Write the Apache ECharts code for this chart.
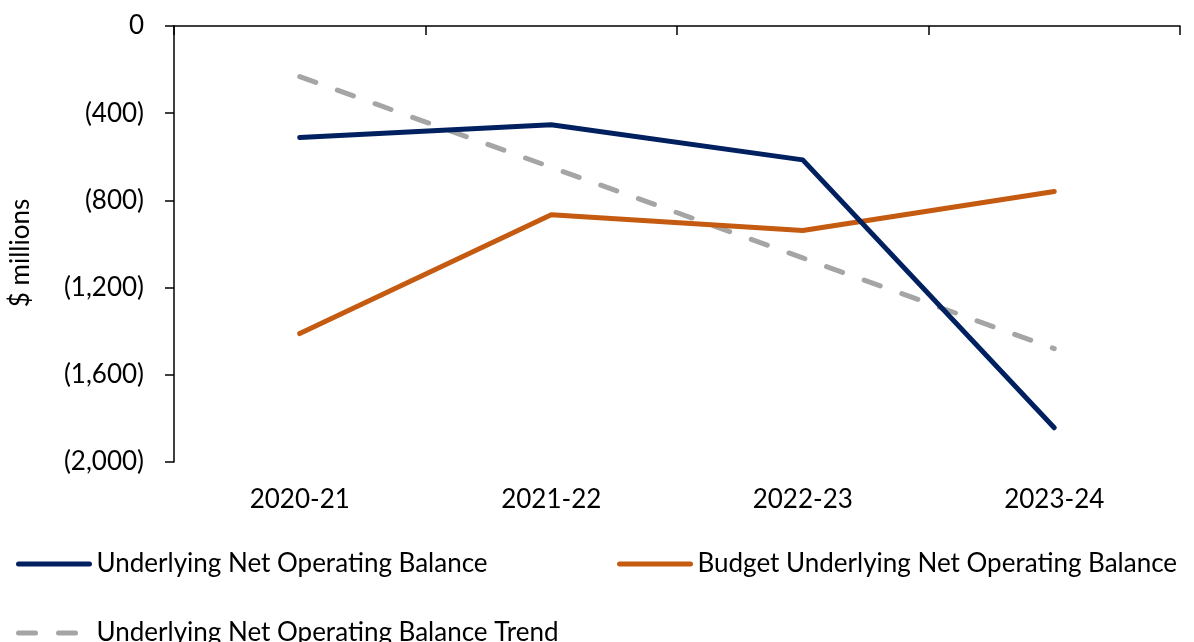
<!DOCTYPE html>
<html>
<head>
<meta charset="utf-8">
<script src="https://cdn.jsdelivr.net/npm/echarts@6/dist/echarts.min.js"></script>
<style>
  html, body { margin: 0; padding: 0; background: #ffffff; }
  #chart { width: 1194px; height: 642px; }
</style>
</head>
<body>
<div id="chart"></div>
<script>
// Financial years on the category axis
const years = ['2020-21', '2021-22', '2022-23', '2023-24'];

// $ millions
const underlyingBalance = [-512, -453, -614, -1843];
const budgetBalance = [-1411, -866, -938, -759];
const underlyingTrend = [-232, -648, -1064, -1480];

const seriesNames = [
  'Underlying Net Operating Balance',
  'Budget Underlying Net Operating Balance',
  'Underlying Net Operating Balance Trend'
];

const FONT = 'Lato';
const FS = 26;

function fmtMillions(v) {
  if (v === 0) return '0';
  const s = Math.abs(v).toLocaleString('en-US');
  return v < 0 ? '(' + s + ')' : s;
}

const chart = echarts.init(document.getElementById('chart'), null, { renderer: 'canvas' });

const legendBase = {
  orient: 'horizontal',
  padding: 0,
  itemWidth: 71,
  itemHeight: 14,
  itemGap: 0,
  itemStyle: { opacity: 0 },
  lineStyle: { width: 5, cap: 'round' },
  textStyle: { fontFamily: FONT, fontSize: FS, color: '#000000', padding: [0, 0, 0, 2] },
  selectedMode: false
};

chart.setOption({
  animation: false,
  backgroundColor: '#ffffff',
  grid: { left: 174, right: 14, top: 26, bottom: 180, containLabel: false, outerBoundsMode: 'none' },
  legend: [
    Object.assign({}, legendBase, { data: [seriesNames[0]], left: 16, top: 551 }),
    Object.assign({}, legendBase, { data: [seriesNames[1]], left: 617, top: 551 }),
    Object.assign({}, legendBase, { data: [seriesNames[2]], left: 16, top: 620 })
  ],
  xAxis: [
    {
      // zero line across the top with tick marks between years
      type: 'category',
      data: years,
      position: 'top',
      boundaryGap: true,
      axisLine: { show: true, onZero: false, lineStyle: { color: '#000000', width: 1.5 } },
      axisTick: { show: true, inside: true, length: 9, alignWithLabel: false, lineStyle: { color: '#000000', width: 1.5 } },
      axisLabel: { show: false },
      splitLine: { show: false }
    },
    {
      // year labels below the plot
      type: 'category',
      data: years,
      position: 'bottom',
      boundaryGap: true,
      axisLine: { show: false, onZero: false },
      axisTick: { show: false },
      axisLabel: { show: true, margin: 25, fontFamily: FONT, fontSize: FS, color: '#000000' },
      splitLine: { show: false }
    }
  ],
  yAxis: {
    type: 'value',
    min: -2000,
    max: 0,
    interval: 400,
    name: '$ millions',
    nameLocation: 'middle',
    nameRotate: 90,
    nameGap: 140,
    nameTextStyle: { fontFamily: FONT, fontSize: FS, color: '#000000', padding: [0, 18, 0, 0] },
    axisLine: { show: true, lineStyle: { color: '#000000', width: 1.5 } },
    axisTick: { show: true, inside: false, length: 9, lineStyle: { color: '#000000', width: 1.5 } },
    axisLabel: { margin: 30, fontFamily: FONT, fontSize: FS, color: '#000000', formatter: fmtMillions },
    splitLine: { show: false }
  },
  series: [
    {
      name: seriesNames[0],
      type: 'line',
      data: underlyingBalance,
      symbol: 'none',
      color: '#002060',
      lineStyle: { color: '#002060', width: 5, cap: 'round', join: 'round' },
      z: 3
    },
    {
      name: seriesNames[1],
      type: 'line',
      data: budgetBalance,
      symbol: 'none',
      color: '#C55A11',
      lineStyle: { color: '#C55A11', width: 5, cap: 'round', join: 'round' },
      z: 2
    },
    {
      name: seriesNames[2],
      type: 'line',
      data: underlyingTrend,
      symbol: 'none',
      color: '#A5A5A5',
      lineStyle: { color: '#A5A5A5', width: 5, type: [17, 23], cap: 'round' },
      z: 1
    }
  ]
});
</script>
</body>
</html>
